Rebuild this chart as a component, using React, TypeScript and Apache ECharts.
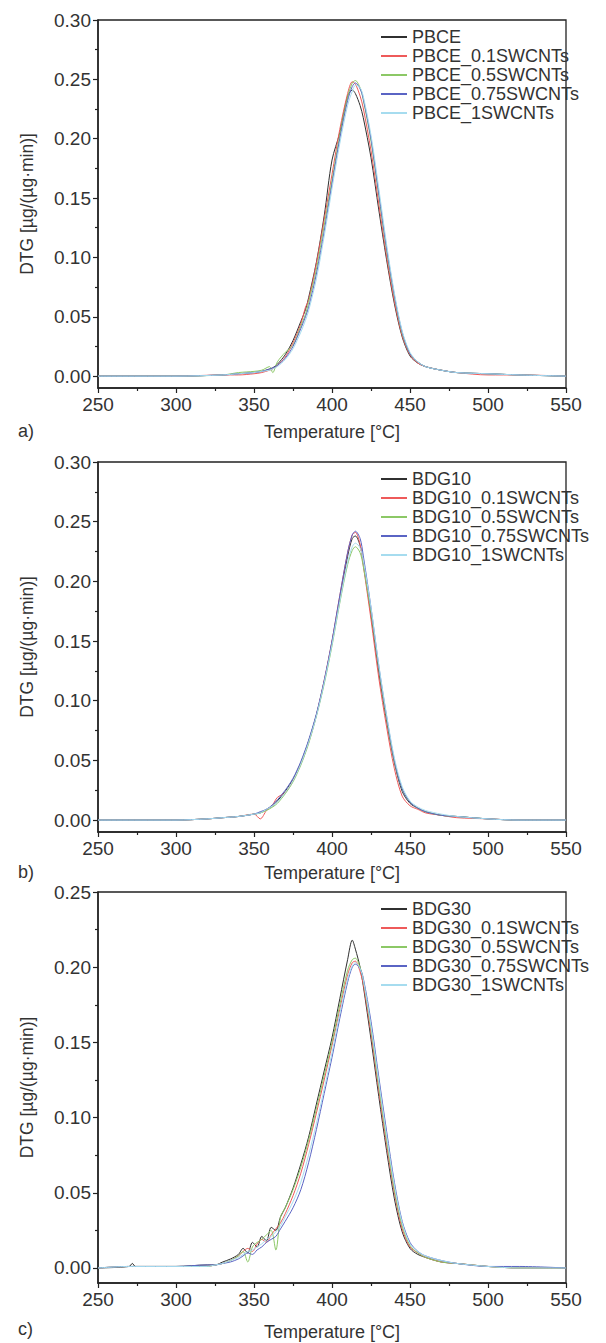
import React, { useEffect, useRef } from "react";
import * as echarts from "echarts";

// ---------- Panel a (PBCE) ----------
const tempsA = [250, 300, 330, 340, 350, 355, 360, 362, 365, 370, 375, 380, 383, 385, 390, 395, 400, 405, 410, 413, 415, 418, 420, 425, 430, 435, 440, 445, 450, 455, 460, 470, 480, 500, 520, 550];
const namesA = ["PBCE", "PBCE_0.1SWCNTs", "PBCE_0.5SWCNTs", "PBCE_0.75SWCNTs", "PBCE_1SWCNTs"];
const pbce = [0.000, 0.000, 0.001, 0.002, 0.003, 0.004, 0.006, 0.007, 0.010, 0.018, 0.030, 0.046, 0.056, 0.066, 0.096, 0.135, 0.182, 0.205, 0.236, 0.241, 0.238, 0.228, 0.218, 0.184, 0.140, 0.098, 0.061, 0.033, 0.017, 0.011, 0.008, 0.005, 0.003, 0.002, 0.001, 0.000];
const pbce01 = [0.000, 0.000, 0.001, 0.001, 0.002, 0.003, 0.005, 0.006, 0.009, 0.016, 0.028, 0.044, 0.058, 0.064, 0.095, 0.132, 0.170, 0.208, 0.238, 0.248, 0.246, 0.236, 0.226, 0.190, 0.145, 0.101, 0.063, 0.034, 0.018, 0.011, 0.008, 0.005, 0.003, 0.001, 0.001, 0.000];
const pbce05 = [0.000, 0.000, 0.001, 0.003, 0.004, 0.005, 0.008, 0.003, 0.012, 0.020, 0.026, 0.042, 0.052, 0.062, 0.090, 0.127, 0.165, 0.203, 0.235, 0.247, 0.249, 0.243, 0.233, 0.198, 0.152, 0.106, 0.067, 0.036, 0.019, 0.012, 0.008, 0.005, 0.003, 0.002, 0.001, 0.000];
const pbce075 = [0.000, 0.000, 0.001, 0.002, 0.003, 0.004, 0.006, 0.007, 0.009, 0.015, 0.025, 0.040, 0.050, 0.058, 0.086, 0.122, 0.162, 0.200, 0.232, 0.244, 0.247, 0.242, 0.234, 0.200, 0.154, 0.108, 0.068, 0.037, 0.019, 0.012, 0.008, 0.005, 0.003, 0.002, 0.001, 0.000];
const pbce1 = [0.000, 0.000, 0.001, 0.002, 0.003, 0.004, 0.005, 0.006, 0.008, 0.014, 0.023, 0.037, 0.047, 0.055, 0.082, 0.118, 0.158, 0.196, 0.228, 0.240, 0.245, 0.243, 0.236, 0.203, 0.158, 0.111, 0.070, 0.038, 0.020, 0.012, 0.008, 0.005, 0.003, 0.002, 0.001, 0.000];

// ---------- Panel b (BDG10) ----------
const tempsB = [250, 300, 320, 330, 340, 350, 354, 358, 362, 365, 370, 375, 380, 385, 390, 395, 400, 405, 410, 413, 415, 418, 420, 425, 430, 435, 440, 445, 450, 455, 460, 470, 480, 500, 520, 550];
const namesB = ["BDG10", "BDG10_0.1SWCNTs", "BDG10_0.5SWCNTs", "BDG10_0.75SWCNTs", "BDG10_1SWCNTs"];
const bdg10 = [0.000, 0.000, 0.001, 0.002, 0.003, 0.005, 0.006, 0.009, 0.012, 0.016, 0.024, 0.034, 0.048, 0.066, 0.088, 0.116, 0.149, 0.186, 0.221, 0.236, 0.238, 0.230, 0.216, 0.172, 0.124, 0.083, 0.048, 0.024, 0.014, 0.010, 0.007, 0.004, 0.003, 0.001, 0.000, 0.000];
const bdg10_01 = [0.000, 0.000, 0.001, 0.002, 0.003, 0.005, 0.001, 0.008, 0.013, 0.019, 0.023, 0.033, 0.047, 0.065, 0.088, 0.117, 0.150, 0.188, 0.224, 0.239, 0.241, 0.231, 0.214, 0.168, 0.119, 0.078, 0.043, 0.020, 0.012, 0.009, 0.006, 0.004, 0.002, 0.001, 0.000, 0.000];
const bdg10_05 = [0.000, 0.000, 0.001, 0.002, 0.003, 0.005, 0.006, 0.008, 0.011, 0.014, 0.022, 0.032, 0.046, 0.064, 0.087, 0.114, 0.146, 0.182, 0.214, 0.226, 0.229, 0.224, 0.213, 0.174, 0.127, 0.085, 0.049, 0.026, 0.015, 0.010, 0.007, 0.004, 0.003, 0.001, 0.000, 0.000];
const bdg10_075 = [0.000, 0.000, 0.001, 0.002, 0.003, 0.005, 0.007, 0.009, 0.013, 0.017, 0.025, 0.035, 0.049, 0.067, 0.089, 0.117, 0.150, 0.188, 0.224, 0.239, 0.242, 0.236, 0.222, 0.178, 0.129, 0.087, 0.050, 0.026, 0.015, 0.010, 0.007, 0.004, 0.003, 0.001, 0.000, 0.000];
const bdg10_1 = [0.000, 0.000, 0.001, 0.002, 0.003, 0.005, 0.006, 0.009, 0.012, 0.015, 0.023, 0.033, 0.047, 0.065, 0.087, 0.115, 0.147, 0.183, 0.216, 0.229, 0.232, 0.228, 0.218, 0.178, 0.130, 0.088, 0.052, 0.028, 0.016, 0.011, 0.008, 0.005, 0.003, 0.001, 0.000, 0.000];

// ---------- Panel c (BDG30) ----------
const tempsC = [250, 270, 272, 274, 300, 320, 325, 330, 335, 340, 343, 346, 349, 352, 355, 358, 361, 364, 367, 370, 375, 380, 385, 390, 395, 400, 405, 410, 413, 415, 418, 420, 425, 430, 435, 440, 445, 450, 455, 460, 470, 480, 500, 520, 550];
const namesC = ["BDG30", "BDG30_0.1SWCNTs", "BDG30_0.5SWCNTs", "BDG30_0.75SWCNTs", "BDG30_1SWCNTs"];
const bdg30 = [0.000, 0.001, 0.003, 0.001, 0.001, 0.002, 0.002, 0.004, 0.006, 0.009, 0.013, 0.010, 0.017, 0.014, 0.021, 0.018, 0.027, 0.025, 0.034, 0.040, 0.053, 0.069, 0.087, 0.109, 0.131, 0.153, 0.179, 0.205, 0.218, 0.212, 0.200, 0.188, 0.152, 0.114, 0.078, 0.046, 0.024, 0.013, 0.009, 0.007, 0.004, 0.003, 0.001, 0.000, 0.000];
const bdg30_01 = [0.000, 0.001, 0.001, 0.001, 0.001, 0.001, 0.002, 0.003, 0.005, 0.008, 0.011, 0.013, 0.011, 0.016, 0.019, 0.017, 0.022, 0.026, 0.030, 0.036, 0.048, 0.063, 0.082, 0.103, 0.125, 0.148, 0.172, 0.195, 0.203, 0.204, 0.197, 0.189, 0.156, 0.118, 0.082, 0.050, 0.026, 0.014, 0.010, 0.007, 0.004, 0.003, 0.001, 0.000, 0.000];
const bdg30_05 = [0.000, 0.001, 0.001, 0.001, 0.001, 0.001, 0.002, 0.003, 0.005, 0.008, 0.011, 0.004, 0.014, 0.017, 0.019, 0.022, 0.025, 0.012, 0.034, 0.040, 0.052, 0.067, 0.085, 0.106, 0.128, 0.150, 0.175, 0.198, 0.205, 0.206, 0.200, 0.192, 0.159, 0.121, 0.085, 0.052, 0.028, 0.015, 0.010, 0.007, 0.004, 0.003, 0.001, 0.000, 0.000];
const bdg30_075 = [0.000, 0.001, 0.001, 0.001, 0.001, 0.002, 0.002, 0.003, 0.004, 0.006, 0.008, 0.010, 0.009, 0.012, 0.014, 0.017, 0.019, 0.021, 0.026, 0.031, 0.040, 0.052, 0.070, 0.092, 0.116, 0.140, 0.166, 0.190, 0.200, 0.202, 0.199, 0.193, 0.164, 0.127, 0.091, 0.057, 0.031, 0.017, 0.011, 0.008, 0.005, 0.003, 0.001, 0.001, 0.000];
const bdg30_1 = [0.000, 0.001, 0.001, 0.001, 0.001, 0.001, 0.002, 0.003, 0.005, 0.007, 0.009, 0.011, 0.012, 0.014, 0.016, 0.019, 0.021, 0.024, 0.028, 0.034, 0.044, 0.057, 0.075, 0.096, 0.119, 0.143, 0.169, 0.192, 0.201, 0.203, 0.199, 0.192, 0.161, 0.124, 0.088, 0.055, 0.030, 0.016, 0.011, 0.008, 0.005, 0.003, 0.001, 0.000, 0.000];

const xTicks = [250, 300, 350, 400, 450, 500, 550];
const yTicksAB = [0, 0.05, 0.1, 0.15, 0.2, 0.25, 0.3];
const yMinorAB = [0.025, 0.075, 0.125, 0.175, 0.225, 0.275];
const yTicksC = [0, 0.05, 0.1, 0.15, 0.2, 0.25];
const yMinorC = [0.025, 0.075, 0.125, 0.175, 0.225];
const panelLabels = ["a)", "b)", "c)"];

const COLORS = ["#303030", "#ee5a5a", "#8cc866", "#5a64c4", "#a6dcef"];
const FONT = "Liberation Sans, Arial, sans-serif";
const TXT = "#333";

const panels = [
  { temps: tempsA, names: namesA, series: [pbce, pbce01, pbce05, pbce075, pbce1], top: 20, height: 368, ymax: 0.3, yTicks: yTicksAB, yMinor: yMinorAB, labelY: 432, nameGap: 35 },
  { temps: tempsB, names: namesB, series: [bdg10, bdg10_01, bdg10_05, bdg10_075, bdg10_1], top: 462, height: 370, ymax: 0.3, yTicks: yTicksAB, yMinor: yMinorAB, labelY: 873, nameGap: 32 },
  { temps: tempsC, names: namesC, series: [bdg30, bdg30_01, bdg30_05, bdg30_075, bdg30_1], top: 892, height: 391, ymax: 0.25, yTicks: yTicksC, yMinor: yMinorC, labelY: 1330, nameGap: 40 },
];

export default function App() {
  const ref = useRef<HTMLDivElement>(null);
  useEffect(() => {
    document.body.style.margin = "0";
    const chart = echarts.init(ref.current!, undefined, { renderer: "svg" });
    const grid: any[] = [];
    const xAxis: any[] = [];
    const yAxis: any[] = [];
    const legend: any[] = [];
    const series: any[] = [];
    const graphic: any[] = [];
    panels.forEach((p, gi) => {
      grid.push({ left: 98, width: 468, top: p.top, height: p.height, show: true, borderColor: "#222", borderWidth: 1.3, backgroundColor: "transparent" });
      xAxis.push({
        type: "value", gridIndex: gi, min: 250, max: 550, interval: 50,
        name: "Temperature [°C]", nameLocation: "middle", nameGap: p.nameGap,
        nameTextStyle: { fontSize: 18, color: TXT, fontFamily: FONT },
        axisLine: { show: true, onZero: false, lineStyle: { color: "#222", width: 1.5 } },
        axisTick: { show: true, length: 5, lineStyle: { color: "#222", width: 1.2 } },
        minorTick: { show: true, splitNumber: 2, length: 3, lineStyle: { color: "#222", width: 1.2 } },
        axisLabel: { fontSize: 19, color: TXT, fontFamily: FONT, margin: 7, customValues: xTicks },
        splitLine: { show: false },
      });
      yAxis.push({
        type: "value", gridIndex: gi, min: -0.01, max: p.ymax,
        name: "DTG [µg/(µg·min)]", nameLocation: "middle", nameGap: 62,
        nameTextStyle: { fontSize: 17.5, color: TXT, fontFamily: FONT },
        axisLine: { show: true, onZero: false, lineStyle: { color: "#222", width: 1.5 } },
        axisTick: { show: true, length: 5, customValues: p.yTicks, lineStyle: { color: "#222", width: 1.2 } },
        axisLabel: { fontSize: 19, color: TXT, fontFamily: FONT, margin: 7, customValues: p.yTicks, formatter: (v: number) => v.toFixed(2) },
        splitLine: { show: false },
      });
      yAxis.push({
        type: "value", gridIndex: gi, min: -0.01, max: p.ymax, position: "left",
        axisLine: { show: false },
        axisTick: { show: true, length: 3, customValues: p.yMinor, lineStyle: { color: "#222", width: 1.2 } },
        axisLabel: { show: false },
        splitLine: { show: false },
      });
      legend.push({
        data: p.names, orient: "vertical", left: 376, top: p.top + 3,
        icon: "rect", itemWidth: 26, itemHeight: 2, itemGap: 1,
        textStyle: { fontSize: 18, color: TXT, fontFamily: FONT, lineHeight: 17 },
        selectedMode: false,
      });
      p.series.forEach((vals, si) => {
        series.push({
          type: "line", name: p.names[si], xAxisIndex: gi, yAxisIndex: gi * 2,
          data: p.temps.map((t, i) => [t, vals[i]]),
          showSymbol: false, symbol: "none", smooth: 0.3,
          lineStyle: { color: COLORS[si], width: 1 }, itemStyle: { color: COLORS[si] },
        });
      });
      graphic.push({ type: "text", left: 18, top: p.labelY - 10, style: { text: panelLabels[gi], fontSize: 18, fill: TXT, fontFamily: FONT } });
    });
    chart.setOption({ animation: false, backgroundColor: "#fff", grid, xAxis, yAxis, legend, series, graphic });
    return () => chart.dispose();
  }, []);
  return <div ref={ref} style={{ width: 606, height: 1343 }} />;
}
